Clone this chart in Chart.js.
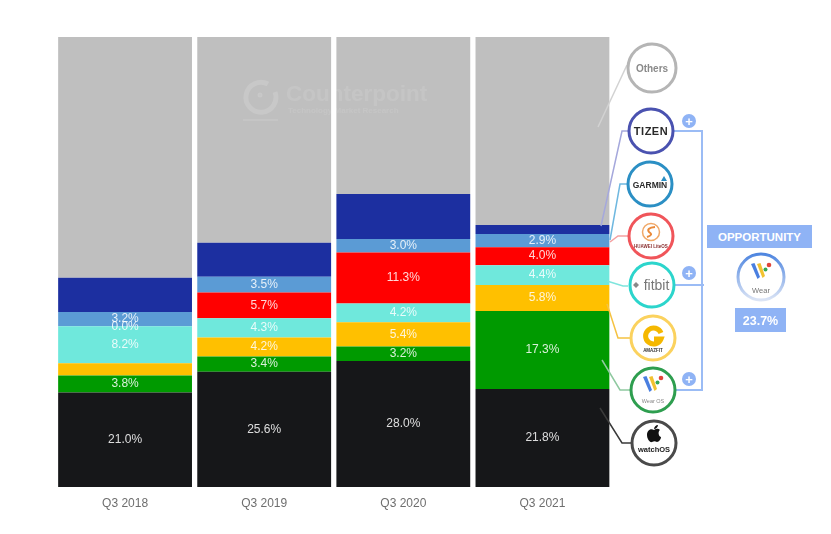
<!DOCTYPE html>
<html>
<head>
<meta charset="utf-8">
<script src="https://cdn.jsdelivr.net/npm/chart.js@4"></script>
<style>
    html, body { margin: 0; padding: 0; background: #fff; }
    #wrap { position: relative; width: 831px; height: 534px; overflow: hidden; font-family: "Liberation Sans", Arial, sans-serif; }
    #chart { position: absolute; left: 0; top: 0; }
    #overlay { position: absolute; left: 0; top: 0; }
</style>
</head>
<body>
<div id="wrap">
    <canvas id="chart" width="831" height="534"></canvas>
    <svg id="overlay" width="831" height="534" viewBox="0 0 831 534" font-family="Liberation Sans, Arial, sans-serif">
        <defs>
            <linearGradient id="wearRing" x1="0" y1="0" x2="0" y2="1">
                <stop offset="0" stop-color="#4f86e0"/>
                <stop offset="1" stop-color="#dbe4f5"/>
            </linearGradient>
            <g id="wearMark">
                <path d="M-10 -8 L-6.500 -9 L-1 5 L-3.500 7 Z" fill="#4a7fe0"/>
                <path d="M-4 -8 L-0.500 -9 L4 4 L1.500 6 Z" fill="#f2c230"/>
                <circle cx="4.500" cy="-2.500" r="2" fill="#35a853"/>
                <circle cx="8" cy="-7" r="2.300" fill="#e0453a"/>
            </g>
        </defs>

        <!-- watermark -->
        <g fill="#fff" opacity="0.1">
            <text x="286" y="101" font-size="22.500" font-weight="bold">Counterpoint</text>
            <text x="288" y="113" font-size="8" font-weight="bold">Technology Market Research</text>
            <rect x="243" y="119" width="35" height="2"/>
        </g>
        <g fill="none" stroke="#fff" opacity="0.14">
            <path d="M268 84 A15 15 0 1 0 275 92" stroke-width="5"/>
            <circle cx="260" cy="95" r="1.500" stroke-width="2"/>
        </g>

        <!-- leader lines -->
        <g fill="none" stroke-width="1.500">
            <polyline points="627,65 598,127" stroke="#d2d2d2"/>
            <polyline points="628,131 622,131 601,226" stroke="#a5a8dc"/>
            <polyline points="627,184 620,184 610,240" stroke="#6fb8e0"/>
            <polyline points="628,236 618,236 610,242" stroke="#f5a0a0"/>
            <polyline points="628,286 623,286 607,281" stroke="#7fe5dd"/>
            <polyline points="630,338 618,338 607,304" stroke="#f5c242"/>
            <polyline points="630,390 620,390 602,360" stroke="#8fc9a0"/>
            <polyline points="631,443 622,443 600,408" stroke="#3a3a3a"/>
        </g>

        <!-- bracket to the opportunity box -->
        <g fill="none" stroke="#9bbcf5" stroke-width="2">
            <polyline points="674,131 702,131 702,390 676,390"/>
            <polyline points="675,285 704,285"/>
        </g>
        <g fill="#8fb3f5">
            <circle cx="689" cy="121" r="7"/>
            <circle cx="689" cy="273" r="7"/>
            <circle cx="689" cy="379" r="7"/>
        </g>
        <g fill="#fff" font-size="13" font-weight="bold" text-anchor="middle">
            <text x="689" y="125.500">+</text>
            <text x="689" y="277.500">+</text>
            <text x="689" y="383.500">+</text>
        </g>

        <!-- vendor rings -->
        <g fill="#fff" stroke-width="3">
            <circle cx="652" cy="68" r="24" stroke="#b5b5b5"/>
            <circle cx="651" cy="131" r="22" stroke="#4a52b0"/>
            <circle cx="650" cy="184" r="22" stroke="#2b8fc4"/>
            <circle cx="651" cy="236" r="22" stroke="#f0555a"/>
            <circle cx="652" cy="285" r="22" stroke="#2cd5cc"/>
            <circle cx="653" cy="338" r="22" stroke="#fbd25e"/>
            <circle cx="653" cy="390" r="22" stroke="#2e9e4f"/>
            <circle cx="654" cy="443" r="22" stroke="#4a4a4a"/>
        </g>

        <!-- vendor names -->
        <g text-anchor="middle">
            <text x="652" y="72" font-size="10" font-weight="bold" fill="#8a8a8a">Others</text>
            <text x="651" y="135" font-size="11" font-weight="bold" fill="#2a2a2a" letter-spacing="0.5">TIZEN</text>
            <text x="650" y="188" font-size="8.500" font-weight="bold" fill="#2a2a2a">GARMIN</text>
            <text x="651" y="248" font-size="4.500" font-weight="bold" fill="#8a3030">HUAWEI LiteOS</text>
            <text x="656.500" y="290" font-size="14" fill="#777">fitbit</text>
            <text x="653" y="352" font-size="4.500" font-weight="bold" fill="#333">AMAZFIT</text>
            <text x="653" y="403" font-size="5.500" fill="#888">Wear OS</text>
            <text x="654" y="452" font-size="7.500" font-weight="bold" fill="#222">watchOS</text>
        </g>

        <!-- small logos -->
        <path d="M664 176 L667 181 L661 181 Z" fill="#2b8fc4"/>
        <circle cx="651" cy="232" r="8.500" fill="none" stroke="#f0a868" stroke-width="1.500"/>
        <path d="M655 227 Q646 228 649 232 Q654 235 647 237" fill="none" stroke="#ea8a3a" stroke-width="2"/>
        <path d="M633 285 L636 282 L639 285 L636 288 Z" fill="#888"/>
        <path d="M661 333 A8 8 0 1 0 661 339 L654 339" fill="none" stroke="#f5b800" stroke-width="5"/>
        <use href="#wearMark" x="653" y="385"/>
        <path d="M654 430 C650 428 647 431 647 435 C647 439 650 443 652 442 C654 441 655 441 657 442 C659 442 661 439 661 437 C658 436 658 431 660 430 C658 428 656 429 654 430 Z M654 429 C654 427 656 425 658 425 C658 427 656 429 654 429 Z" fill="#111"/>

        <!-- opportunity panel -->
        <rect x="707" y="225" width="105" height="23" fill="#8fb3f5"/>
        <text x="759.500" y="241" font-size="11.500" font-weight="bold" fill="#fff" text-anchor="middle">OPPORTUNITY</text>
        <circle cx="761" cy="277" r="23" fill="#fff" stroke="url(#wearRing)" stroke-width="3"/>
        <use href="#wearMark" x="761" y="272"/>
        <text x="761" y="293" font-size="7.500" fill="#777" text-anchor="middle">Wear</text>
        <rect x="735" y="308" width="51" height="24" fill="#8fb3f5"/>
        <text x="760.500" y="325" font-size="12.500" font-weight="bold" fill="#fff" text-anchor="middle">23.7%</text>
    </svg>
</div>

<script>
const quarters = ['Q3 2018', 'Q3 2019', 'Q3 2020', 'Q3 2021'];

const watchOS = [21.0, 25.6, 28.0, 21.8];
const wearOS = [3.8, 3.4, 3.2, 17.3];
const amazfit = [2.7, 4.2, 5.4, 5.8];
const fitbit = [8.2, 4.3, 4.2, 4.4];
const huawei = [0.0, 5.7, 11.3, 4.0];
const garmin = [3.2, 3.5, 3.0, 2.9];
const tizen = [7.6, 7.6, 10.0, 2.0];
const others = [53.5, 46.2, 34.9, 41.8];

// segments that have no printed value in the picture
const amazfitLabelled = [false, true, true, true];

const valueLabels = {
    id: 'valueLabels',
    afterDatasetsDraw(chart) {
        const { ctx } = chart;
        ctx.save();
        ctx.font = '12px "Liberation Sans", Arial, sans-serif';
        ctx.textAlign = 'center';
        ctx.textBaseline = 'middle';
        ctx.fillStyle = 'rgba(255,255,255,0.85)';

        chart.data.datasets.forEach((dataset, i) => {
            if (!dataset.labelled) {
                return;
            }
            chart.getDatasetMeta(i).data.forEach((bar, j) => {
                if (!dataset.labelled[j]) {
                    return;
                }
                const mid = bar.base + (bar.y - bar.base) / 2;
                ctx.fillText(dataset.data[j].toFixed(1) + '%', bar.x, mid);
            });
        });
        ctx.restore();
    }
};

const allLabelled = [true, true, true, true];

new Chart(document.getElementById('chart'), {
    type: 'bar',
    data: {
        labels: quarters,
        datasets: [
            { label: 'watchOS', data: watchOS, backgroundColor: '#161719', labelled: allLabelled },
            { label: 'Wear OS', data: wearOS, backgroundColor: '#009a00', labelled: allLabelled },
            { label: 'Amazfit', data: amazfit, backgroundColor: '#ffc000', labelled: amazfitLabelled },
            { label: 'Fitbit', data: fitbit, backgroundColor: '#6fe8dc', labelled: allLabelled },
            { label: 'Huawei', data: huawei, backgroundColor: '#ff0000', labelled: allLabelled },
            { label: 'Garmin', data: garmin, backgroundColor: '#5b9bd5', labelled: allLabelled },
            { label: 'Tizen', data: tizen, backgroundColor: '#1c2fa0' },
            { label: 'Others', data: others, backgroundColor: '#bfbfbf' },
        ],
    },
    options: {
        responsive: false,
        animation: false,
        barPercentage: 0.962,
        categoryPercentage: 1,
        layout: { padding: { left: 55.5, right: 219, top: 37, bottom: 0 } },
        plugins: { legend: { display: false }, tooltip: { enabled: false } },
        scales: {
            x: {
                stacked: true,
                grid: { display: false },
                border: { display: false },
                ticks: { color: '#6e6e6e', font: { size: 12, family: '"Liberation Sans", Arial, sans-serif' }, padding: 1 },
                afterFit(scale) {
                    scale.height = 47;
                },
            },
            y: { stacked: true, display: false, min: 0, max: 100 },
        },
    },
    plugins: [valueLabels],
});
</script>
</body>
</html>
